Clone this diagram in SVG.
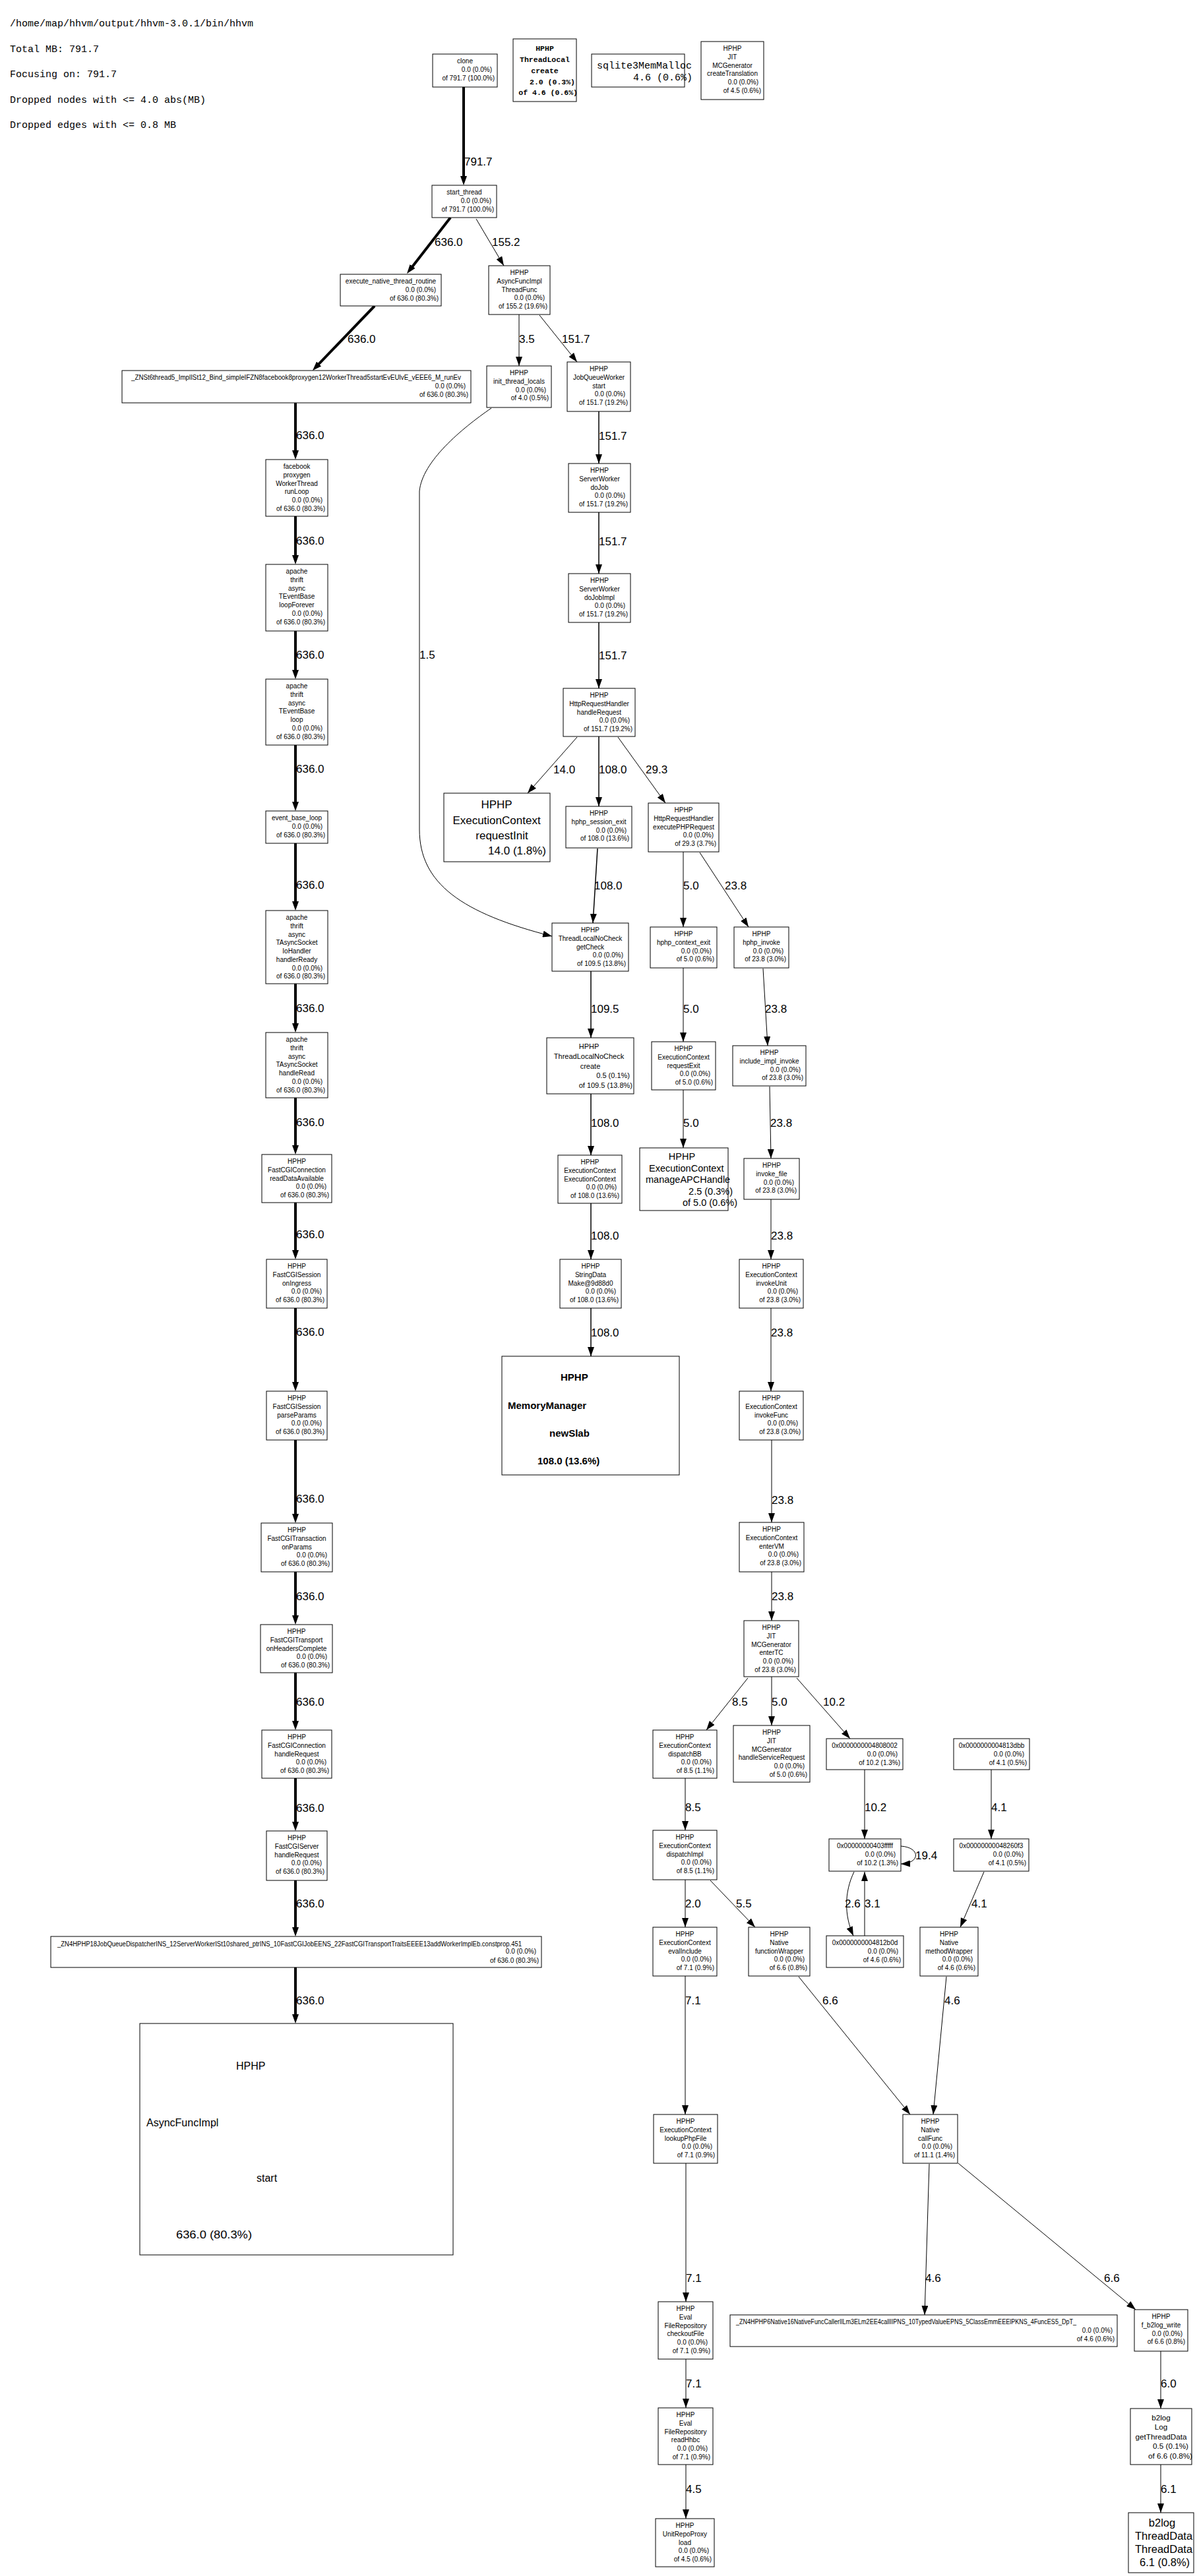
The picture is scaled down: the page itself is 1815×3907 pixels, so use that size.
<svg xmlns="http://www.w3.org/2000/svg" width="1815" height="3907" viewBox="0 0 1815 3907">
<style>
text{font-family:"Liberation Sans",Arial,sans-serif;fill:#000}
.s{font-size:10px}
.c{text-anchor:middle}
.r{text-anchor:end}
.l{font-size:17px}
.m{font-family:"Liberation Mono","Courier New",monospace}
.b{fill:#fff;stroke:#000;stroke-width:1}
.e{fill:none;stroke:#000;stroke-width:1;marker-end:url(#a)}
.e2{stroke-width:1.5}
.e4{stroke-width:4;marker-end:url(#ak)}
</style>
<defs>
<marker id="a" viewBox="0 0 14 10" markerWidth="14" markerHeight="10" refX="14" refY="5" orient="auto" markerUnits="userSpaceOnUse"><path d="M0,0 L14,5 L0,10 z" fill="#000"/></marker>
<marker id="ak" viewBox="0 0 14 10" markerWidth="14" markerHeight="10" refX="6" refY="5" orient="auto" markerUnits="userSpaceOnUse"><path d="M0,0 L14,5 L0,10 z" fill="#000"/></marker>
</defs>
<rect x="0" y="0" width="1815" height="3907" fill="#fff"/>
<g id="header">
<text class="m" x="15" y="40" font-size="15">/home/map/hhvm/output/hhvm-3.0.1/bin/hhvm</text>
<text class="m" x="15" y="79" font-size="15">Total MB: 791.7</text>
<text class="m" x="15" y="117" font-size="15">Focusing on: 791.7</text>
<text class="m" x="15" y="156" font-size="15">Dropped nodes with &lt;= 4.0 abs(MB)</text>
<text class="m" x="15" y="194" font-size="15">Dropped edges with &lt;= 0.8 MB</text>
</g>
<g id="edges">
<path class="e e4" d="M703,132 V273"/>
<path class="e e4" d="M683,330 L621.9,408.7"/>
<path class="e e4" d="M568,464 L479.5,556.2"/>
<path class="e e4" d="M448,611 V689"/>
<path class="e e4" d="M448,783 V848"/>
<path class="e e4" d="M448,957 V1022"/>
<path class="e e4" d="M448,1130 V1222"/>
<path class="e e4" d="M448,1279 V1373"/>
<path class="e e4" d="M448,1492 V1558"/>
<path class="e e4" d="M448,1665 V1743"/>
<path class="e e4" d="M448,1824 V1902"/>
<path class="e e4" d="M448,1984 V2102"/>
<path class="e e4" d="M448,2184 V2302"/>
<path class="e e4" d="M448,2384 V2456"/>
<path class="e e4" d="M448,2537 V2616"/>
<path class="e e4" d="M448,2697 V2769"/>
<path class="e e4" d="M448,2852 V2929"/>
<path class="e e4" d="M448,2984 V3061"/>
<path class="e" d="M722,332 L764,403"/>
<path class="e" d="M787,477 V555"/>
<path class="e" d="M818,478 L875,549"/>
<path class="e e2" d="M908,624 V703"/>
<path class="e e2" d="M908,777 V870"/>
<path class="e e2" d="M908,944 V1044"/>
<path class="e" d="M875,1118 L800,1203"/>
<path class="e e2" d="M908,1117 V1223"/>
<path class="e" d="M937,1118 L1009,1218"/>
<path class="e" d="M745,619 C700,650 640,700 636,745 L636,1258 C636,1340 700,1385 837,1420"/>
<path class="e e2" d="M906,1287 L899,1400"/>
<path class="e" d="M1036,1292 V1406"/>
<path class="e" d="M1061,1293 L1135,1406"/>
<path class="e e2" d="M896,1473 V1574"/>
<path class="e e2" d="M896,1659 V1752"/>
<path class="e e2" d="M896,1825 V1910"/>
<path class="e e2" d="M896,1984 V2057"/>
<path class="e" d="M1036,1468 V1580"/>
<path class="e" d="M1036,1653 V1741"/>
<path class="e" d="M1157,1469 L1164,1586"/>
<path class="e" d="M1167,1648 L1169,1757"/>
<path class="e" d="M1169,1819 V1910"/>
<path class="e" d="M1169,1984 V2110"/>
<path class="e" d="M1170,2184 V2309"/>
<path class="e" d="M1170,2384 V2458"/>
<path class="e" d="M1134,2545 L1071,2624"/>
<path class="e" d="M1170,2543 V2617"/>
<path class="e" d="M1208,2545 L1289,2637"/>
<path class="e" d="M1039,2697 V2776"/>
<path class="e" d="M1311,2684 V2789"/>
<path class="e" d="M1503,2684 V2789"/>
<path class="e" d="M1039,2851 V2923"/>
<path class="e" d="M1077,2852 L1145,2923"/>
<path class="e" d="M1366,2800 C1396,2802 1396,2826 1366,2827"/>
<path class="e" d="M1295,2839 C1280,2870 1280,2905 1294,2936"/>
<path class="e" d="M1311,2936 V2839"/>
<path class="e" d="M1492,2839 L1456,2923"/>
<path class="e" d="M1211,2998 L1380,3207"/>
<path class="e" d="M1435,2998 L1415,3207"/>
<path class="e" d="M1039,2997 V3207"/>
<path class="e" d="M1040,3281 V3491"/>
<path class="e" d="M1040,3578 V3652"/>
<path class="e" d="M1040,3738 V3820"/>
<path class="e" d="M1409,3282 L1402,3511"/>
<path class="e" d="M1453,3281 L1722,3503"/>
<path class="e" d="M1760,3566 V3653"/>
<path class="e" d="M1760,3738 V3811"/>
<g id="edge-labels">
<text class="l" x="704" y="251">791.7</text>
<text class="l" x="659" y="373">636.0</text>
<text class="l" x="746" y="373">155.2</text>
<text class="l" x="527" y="520">636.0</text>
<text class="l" x="787" y="520">3.5</text>
<text class="l" x="852" y="520">151.7</text>
<text class="l" x="449" y="666">636.0</text>
<text class="l" x="908" y="667">151.7</text>
<text class="l" x="449" y="826">636.0</text>
<text class="l" x="908" y="827">151.7</text>
<text class="l" x="449" y="999">636.0</text>
<text class="l" x="908" y="1000">151.7</text>
<text class="l" x="636" y="999">1.5</text>
<text class="l" x="449" y="1172">636.0</text>
<text class="l" x="839" y="1173">14.0</text>
<text class="l" x="908" y="1173">108.0</text>
<text class="l" x="979" y="1173">29.3</text>
<text class="l" x="449" y="1348">636.0</text>
<text class="l" x="901" y="1349">108.0</text>
<text class="l" x="1036" y="1349">5.0</text>
<text class="l" x="1099" y="1349">23.8</text>
<text class="l" x="449" y="1535">636.0</text>
<text class="l" x="896" y="1536">109.5</text>
<text class="l" x="1036" y="1536">5.0</text>
<text class="l" x="1160" y="1536">23.8</text>
<text class="l" x="449" y="1708">636.0</text>
<text class="l" x="896" y="1709">108.0</text>
<text class="l" x="1036" y="1709">5.0</text>
<text class="l" x="1168" y="1709">23.8</text>
<text class="l" x="449" y="1878">636.0</text>
<text class="l" x="896" y="1880">108.0</text>
<text class="l" x="1169" y="1880">23.8</text>
<text class="l" x="449" y="2026">636.0</text>
<text class="l" x="896" y="2027">108.0</text>
<text class="l" x="1169" y="2027">23.8</text>
<text class="l" x="449" y="2279">636.0</text>
<text class="l" x="1170" y="2281">23.8</text>
<text class="l" x="449" y="2427">636.0</text>
<text class="l" x="1170" y="2427">23.8</text>
<text class="l" x="449" y="2587">636.0</text>
<text class="l" x="1110" y="2587">8.5</text>
<text class="l" x="1170" y="2587">5.0</text>
<text class="l" x="1248" y="2587">10.2</text>
<text class="l" x="449" y="2748">636.0</text>
<text class="l" x="1039" y="2747">8.5</text>
<text class="l" x="1311" y="2747">10.2</text>
<text class="l" x="1503" y="2747">4.1</text>
<text class="l" x="1388" y="2820">19.4</text>
<text class="l" x="449" y="2893">636.0</text>
<text class="l" x="1039" y="2893">2.0</text>
<text class="l" x="1116" y="2893">5.5</text>
<text class="l" x="1281" y="2893">2.6</text>
<text class="l" x="1311" y="2893">3.1</text>
<text class="l" x="1473" y="2893">4.1</text>
<text class="l" x="449" y="3040">636.0</text>
<text class="l" x="1039" y="3040">7.1</text>
<text class="l" x="1247" y="3040">6.6</text>
<text class="l" x="1432" y="3040">4.6</text>
<text class="l" x="1040" y="3461">7.1</text>
<text class="l" x="1403" y="3461">4.6</text>
<text class="l" x="1674" y="3461">6.6</text>
<text class="l" x="1040" y="3621">7.1</text>
<text class="l" x="1760" y="3621">6.0</text>
<text class="l" x="1040" y="3781">4.5</text>
<text class="l" x="1760" y="3781">6.1</text>
</g>
</g>
<g id="nodes">
<g id="n_clone"><rect class="b" x="656" y="82" width="98" height="50"/><text class="s c" x="705" y="96">clone</text><text class="s r" x="746" y="108.75">0.0 (0.0%)</text><text class="s r" x="750" y="121.5">of 791.7 (100.0%)</text></g>
<g id="n_threadlocal_create"><rect class="b" x="778" y="59" width="96" height="95"/><text class="m c" font-size="11.5" font-weight="bold" x="826" y="77">HPHP</text><text class="m c" font-size="11.5" font-weight="bold" x="826" y="94">ThreadLocal</text><text class="m c" font-size="11.5" font-weight="bold" x="826" y="111">create</text><text class="m r" font-size="11.5" font-weight="bold" x="872" y="128">2.0 (0.3%)</text><text class="m r" font-size="11.5" font-weight="bold" x="876" y="144">of 4.6 (0.6%)</text></g>
<g id="n_sqlite"><rect class="b" x="897" y="82" width="141" height="50"/><text class="m" font-size="15" x="905" y="104">sqlite3MemMalloc</text><text class="m r" font-size="15" x="1050" y="122">4.6 (0.6%)</text></g>
<g id="n_createTranslation"><rect class="b" x="1063" y="63" width="95" height="88"/><text class="s c" x="1110.5" y="77">HPHP</text><text class="s c" x="1110.5" y="89.75">JIT</text><text class="s c" x="1110.5" y="102.5">MCGenerator</text><text class="s c" x="1110.5" y="115.25">createTranslation</text><text class="s r" x="1150" y="128">0.0 (0.0%)</text><text class="s r" x="1154" y="140.75">of 4.5 (0.6%)</text></g>
<g id="n_start_thread"><rect class="b" x="655" y="281" width="98" height="49"/><text class="s c" x="704" y="295">start_thread</text><text class="s r" x="745" y="307.75">0.0 (0.0%)</text><text class="s r" x="749" y="320.5">of 791.7 (100.0%)</text></g>
<g id="n_execute_native"><rect class="b" x="516" y="416" width="153" height="48"/><text class="s c" x="592.5" y="430">execute_native_thread_routine</text><text class="s r" x="661" y="442.75">0.0 (0.0%)</text><text class="s r" x="665" y="455.5">of 636.0 (80.3%)</text></g>
<g id="n_threadfunc"><rect class="b" x="741" y="403" width="93" height="74"/><text class="s c" x="787.5" y="417">HPHP</text><text class="s c" x="787.5" y="429.75">AsyncFuncImpl</text><text class="s c" x="787.5" y="442.5">ThreadFunc</text><text class="s r" x="826" y="455.25">0.0 (0.0%)</text><text class="s r" x="830" y="468">of 155.2 (19.6%)</text></g>
<g id="n_workerthread_run"><rect class="b" x="185" y="562" width="529" height="49"/><text class="s c" x="449" y="576" textLength="500" lengthAdjust="spacingAndGlyphs">_ZNSt6thread5_ImplISt12_Bind_simpleIFZN8facebook8proxygen12WorkerThread5startEvEUlvE_vEEE6_M_runEv</text><text class="s r" x="706" y="588.75">0.0 (0.0%)</text><text class="s r" x="710" y="601.5">of 636.0 (80.3%)</text></g>
<g id="n_init_thread_locals"><rect class="b" x="738" y="555" width="98" height="63"/><text class="s c" x="787" y="569">HPHP</text><text class="s c" x="787" y="581.75">init_thread_locals</text><text class="s r" x="828" y="594.5">0.0 (0.0%)</text><text class="s r" x="832" y="607.25">of 4.0 (0.5%)</text></g>
<g id="n_jobqueueworker"><rect class="b" x="860" y="549" width="96" height="75"/><text class="s c" x="908" y="563">HPHP</text><text class="s c" x="908" y="575.75">JobQueueWorker</text><text class="s c" x="908" y="588.5">start</text><text class="s r" x="948" y="601.25">0.0 (0.0%)</text><text class="s r" x="952" y="614">of 151.7 (19.2%)</text></g>
<g id="n_dojob"><rect class="b" x="862" y="703" width="94" height="74"/><text class="s c" x="909" y="717">HPHP</text><text class="s c" x="909" y="729.75">ServerWorker</text><text class="s c" x="909" y="742.5">doJob</text><text class="s r" x="948" y="755.25">0.0 (0.0%)</text><text class="s r" x="952" y="768">of 151.7 (19.2%)</text></g>
<g id="n_dojobimpl"><rect class="b" x="862" y="870" width="94" height="74"/><text class="s c" x="909" y="884">HPHP</text><text class="s c" x="909" y="896.75">ServerWorker</text><text class="s c" x="909" y="909.5">doJobImpl</text><text class="s r" x="948" y="922.25">0.0 (0.0%)</text><text class="s r" x="952" y="935">of 151.7 (19.2%)</text></g>
<g id="n_http_handlerequest"><rect class="b" x="854" y="1044" width="109" height="73"/><text class="s c" x="908.5" y="1058">HPHP</text><text class="s c" x="908.5" y="1070.75">HttpRequestHandler</text><text class="s c" x="908.5" y="1083.5">handleRequest</text><text class="s r" x="955" y="1096.25">0.0 (0.0%)</text><text class="s r" x="959" y="1109">of 151.7 (19.2%)</text></g>
<g id="n_requestinit"><rect class="b" x="673" y="1203" width="161" height="104"/><text class="c" font-size="17" x="753" y="1226">HPHP</text><text class="c" font-size="17" x="753" y="1250">ExecutionContext</text><text class="c" font-size="17" x="761" y="1273">requestInit</text><text class="r" font-size="17" x="828" y="1296">14.0 (1.8%)</text></g>
<g id="n_session_exit"><rect class="b" x="858" y="1223" width="100" height="63"/><text class="s c" x="908" y="1237">HPHP</text><text class="s c" x="908" y="1249.75">hphp_session_exit</text><text class="s r" x="950" y="1262.5">0.0 (0.0%)</text><text class="s r" x="954" y="1275.25">of 108.0 (13.6%)</text></g>
<g id="n_executephp"><rect class="b" x="983" y="1218" width="107" height="74"/><text class="s c" x="1036.5" y="1232">HPHP</text><text class="s c" x="1036.5" y="1244.75">HttpRequestHandler</text><text class="s c" x="1036.5" y="1257.5">executePHPRequest</text><text class="s r" x="1082" y="1270.25">0.0 (0.0%)</text><text class="s r" x="1086" y="1283">of 29.3 (3.7%)</text></g>
<g id="n_getcheck"><rect class="b" x="837" y="1400" width="116" height="73"/><text class="s c" x="895" y="1414">HPHP</text><text class="s c" x="895" y="1426.75">ThreadLocalNoCheck</text><text class="s c" x="895" y="1439.5">getCheck</text><text class="s r" x="945" y="1452.25">0.0 (0.0%)</text><text class="s r" x="949" y="1465">of 109.5 (13.8%)</text></g>
<g id="n_tlnc_create"><rect class="b" x="829" y="1574" width="132" height="85"/><text class="c" font-size="11" x="893" y="1591">HPHP</text><text class="c" font-size="11" x="893" y="1606">ThreadLocalNoCheck</text><text class="c" font-size="11" x="895" y="1621">create</text><text class="r" font-size="11" x="955" y="1635">0.5 (0.1%)</text><text class="r" font-size="11" x="959" y="1650">of 109.5 (13.8%)</text></g>
<g id="n_ecec"><rect class="b" x="846" y="1752" width="97" height="73"/><text class="s c" x="894.5" y="1766">HPHP</text><text class="s c" x="894.5" y="1778.75">ExecutionContext</text><text class="s c" x="894.5" y="1791.5">ExecutionContext</text><text class="s r" x="935" y="1804.25">0.0 (0.0%)</text><text class="s r" x="939" y="1817">of 108.0 (13.6%)</text></g>
<g id="n_stringdata"><rect class="b" x="849" y="1910" width="93" height="74"/><text class="s c" x="895.5" y="1924">HPHP</text><text class="s c" x="895.5" y="1936.75">StringData</text><text class="s c" x="895.5" y="1949.5">Make@9d88d0</text><text class="s r" x="934" y="1962.25">0.0 (0.0%)</text><text class="s r" x="938" y="1975">of 108.0 (13.6%)</text></g>
<g id="n_newslab"><rect class="b" x="761" y="2057" width="269" height="180"/><text font-size="15" font-weight="bold" x="850" y="2094">HPHP</text><text font-size="15" font-weight="bold" x="770" y="2137">MemoryManager</text><text font-size="15" font-weight="bold" x="833" y="2179">newSlab</text><text font-size="15" font-weight="bold" x="815" y="2221">108.0 (13.6%)</text></g>
<g id="n_context_exit"><rect class="b" x="986" y="1406" width="101" height="62"/><text class="s c" x="1036.5" y="1420">HPHP</text><text class="s c" x="1036.5" y="1432.75">hphp_context_exit</text><text class="s r" x="1079" y="1445.5">0.0 (0.0%)</text><text class="s r" x="1083" y="1458.25">of 5.0 (0.6%)</text></g>
<g id="n_requestexit"><rect class="b" x="988" y="1580" width="97" height="73"/><text class="s c" x="1036.5" y="1594">HPHP</text><text class="s c" x="1036.5" y="1606.75">ExecutionContext</text><text class="s c" x="1036.5" y="1619.5">requestExit</text><text class="s r" x="1077" y="1632.25">0.0 (0.0%)</text><text class="s r" x="1081" y="1645">of 5.0 (0.6%)</text></g>
<g id="n_manageapc"><rect class="b" x="970" y="1741" width="134" height="95"/><text class="c" font-size="14.5" x="1034" y="1758.5">HPHP</text><text font-size="14.5" x="984" y="1776.5">ExecutionContext</text><text font-size="14.5" x="979" y="1793.5">manageAPCHandle</text><text class="r" font-size="14.5" x="1111" y="1811.5">2.5 (0.3%)</text><text class="r" font-size="14.5" x="1118" y="1828.5">of 5.0 (0.6%)</text></g>
<g id="n_hphp_invoke"><rect class="b" x="1113" y="1406" width="83" height="62"/><text class="s c" x="1154.5" y="1420">HPHP</text><text class="s c" x="1154.5" y="1432.75">hphp_invoke</text><text class="s r" x="1188" y="1445.5">0.0 (0.0%)</text><text class="s r" x="1192" y="1458.25">of 23.8 (3.0%)</text></g>
<g id="n_include_impl"><rect class="b" x="1111" y="1586" width="111" height="61"/><text class="s c" x="1166.5" y="1600">HPHP</text><text class="s c" x="1166.5" y="1612.75">include_impl_invoke</text><text class="s r" x="1214" y="1625.5">0.0 (0.0%)</text><text class="s r" x="1218" y="1638.25">of 23.8 (3.0%)</text></g>
<g id="n_invoke_file"><rect class="b" x="1128" y="1757" width="84" height="62"/><text class="s c" x="1170" y="1771">HPHP</text><text class="s c" x="1170" y="1783.75">invoke_file</text><text class="s r" x="1204" y="1796.5">0.0 (0.0%)</text><text class="s r" x="1208" y="1809.25">of 23.8 (3.0%)</text></g>
<g id="n_invokeunit"><rect class="b" x="1121" y="1910" width="97" height="74"/><text class="s c" x="1169.5" y="1924">HPHP</text><text class="s c" x="1169.5" y="1936.75">ExecutionContext</text><text class="s c" x="1169.5" y="1949.5">invokeUnit</text><text class="s r" x="1210" y="1962.25">0.0 (0.0%)</text><text class="s r" x="1214" y="1975">of 23.8 (3.0%)</text></g>
<g id="n_invokefunc"><rect class="b" x="1121" y="2110" width="97" height="74"/><text class="s c" x="1169.5" y="2124">HPHP</text><text class="s c" x="1169.5" y="2136.75">ExecutionContext</text><text class="s c" x="1169.5" y="2149.5">invokeFunc</text><text class="s r" x="1210" y="2162.25">0.0 (0.0%)</text><text class="s r" x="1214" y="2175">of 23.8 (3.0%)</text></g>
<g id="n_entervm"><rect class="b" x="1121" y="2309" width="98" height="75"/><text class="s c" x="1170" y="2323">HPHP</text><text class="s c" x="1170" y="2335.75">ExecutionContext</text><text class="s c" x="1170" y="2348.5">enterVM</text><text class="s r" x="1211" y="2361.25">0.0 (0.0%)</text><text class="s r" x="1215" y="2374">of 23.8 (3.0%)</text></g>
<g id="n_entertc"><rect class="b" x="1128" y="2458" width="83" height="85"/><text class="s c" x="1169.5" y="2472">HPHP</text><text class="s c" x="1169.5" y="2484.75">JIT</text><text class="s c" x="1169.5" y="2497.5">MCGenerator</text><text class="s c" x="1169.5" y="2510.25">enterTC</text><text class="s r" x="1203" y="2523">0.0 (0.0%)</text><text class="s r" x="1207" y="2535.75">of 23.8 (3.0%)</text></g>
<g id="n_dispatchbb"><rect class="b" x="990" y="2624" width="97" height="73"/><text class="s c" x="1038.5" y="2638">HPHP</text><text class="s c" x="1038.5" y="2650.75">ExecutionContext</text><text class="s c" x="1038.5" y="2663.5">dispatchBB</text><text class="s r" x="1079" y="2676.25">0.0 (0.0%)</text><text class="s r" x="1083" y="2689">of 8.5 (1.1%)</text></g>
<g id="n_handleservice"><rect class="b" x="1112" y="2617" width="116" height="86"/><text class="s c" x="1170" y="2631">HPHP</text><text class="s c" x="1170" y="2643.75">JIT</text><text class="s c" x="1170" y="2656.5">MCGenerator</text><text class="s c" x="1170" y="2669.25">handleServiceRequest</text><text class="s r" x="1220" y="2682">0.0 (0.0%)</text><text class="s r" x="1224" y="2694.75">of 5.0 (0.6%)</text></g>
<g id="n_4808002"><rect class="b" x="1253" y="2637" width="116" height="47"/><text class="s c" x="1311" y="2651">0x0000000004808002</text><text class="s r" x="1361" y="2663.75">0.0 (0.0%)</text><text class="s r" x="1365" y="2676.5">of 10.2 (1.3%)</text></g>
<g id="n_4813dbb"><rect class="b" x="1446" y="2637" width="115" height="47"/><text class="s c" x="1503.5" y="2651">0x0000000004813dbb</text><text class="s r" x="1553" y="2663.75">0.0 (0.0%)</text><text class="s r" x="1557" y="2676.5">of 4.1 (0.5%)</text></g>
<g id="n_dispatchimpl"><rect class="b" x="990" y="2776" width="97" height="75"/><text class="s c" x="1038.5" y="2790">HPHP</text><text class="s c" x="1038.5" y="2802.75">ExecutionContext</text><text class="s c" x="1038.5" y="2815.5">dispatchImpl</text><text class="s r" x="1079" y="2828.25">0.0 (0.0%)</text><text class="s r" x="1083" y="2841">of 8.5 (1.1%)</text></g>
<g id="n_403fffff"><rect class="b" x="1257" y="2789" width="109" height="49"/><text class="s c" x="1311.5" y="2803">0x00000000403fffff</text><text class="s r" x="1358" y="2815.75">0.0 (0.0%)</text><text class="s r" x="1362" y="2828.5">of 10.2 (1.3%)</text></g>
<g id="n_48260f3"><rect class="b" x="1446" y="2789" width="114" height="49"/><text class="s c" x="1503" y="2803">0x00000000048260f3</text><text class="s r" x="1552" y="2815.75">0.0 (0.0%)</text><text class="s r" x="1556" y="2828.5">of 4.1 (0.5%)</text></g>
<g id="n_evalinclude"><rect class="b" x="990" y="2923" width="97" height="74"/><text class="s c" x="1038.5" y="2937">HPHP</text><text class="s c" x="1038.5" y="2949.75">ExecutionContext</text><text class="s c" x="1038.5" y="2962.5">evalInclude</text><text class="s r" x="1079" y="2975.25">0.0 (0.0%)</text><text class="s r" x="1083" y="2988">of 7.1 (0.9%)</text></g>
<g id="n_functionwrapper"><rect class="b" x="1135" y="2923" width="93" height="74"/><text class="s c" x="1181.5" y="2937">HPHP</text><text class="s c" x="1181.5" y="2949.75">Native</text><text class="s c" x="1181.5" y="2962.5">functionWrapper</text><text class="s r" x="1220" y="2975.25">0.0 (0.0%)</text><text class="s r" x="1224" y="2988">of 6.6 (0.8%)</text></g>
<g id="n_4812b0d"><rect class="b" x="1253" y="2936" width="117" height="48"/><text class="s c" x="1311.5" y="2950">0x0000000004812b0d</text><text class="s r" x="1362" y="2962.75">0.0 (0.0%)</text><text class="s r" x="1366" y="2975.5">of 4.6 (0.6%)</text></g>
<g id="n_methodwrapper"><rect class="b" x="1395" y="2923" width="88" height="74"/><text class="s c" x="1439" y="2937">HPHP</text><text class="s c" x="1439" y="2949.75">Native</text><text class="s c" x="1439" y="2962.5">methodWrapper</text><text class="s r" x="1475" y="2975.25">0.0 (0.0%)</text><text class="s r" x="1479" y="2988">of 4.6 (0.6%)</text></g>
<g id="n_callfunc"><rect class="b" x="1369" y="3207" width="83" height="74"/><text class="s c" x="1410.5" y="3221">HPHP</text><text class="s c" x="1410.5" y="3233.75">Native</text><text class="s c" x="1410.5" y="3246.5">callFunc</text><text class="s r" x="1444" y="3259.25">0.0 (0.0%)</text><text class="s r" x="1448" y="3272">of 11.1 (1.4%)</text></g>
<g id="n_lookupphpfile"><rect class="b" x="991" y="3207" width="97" height="74"/><text class="s c" x="1039.5" y="3221">HPHP</text><text class="s c" x="1039.5" y="3233.75">ExecutionContext</text><text class="s c" x="1039.5" y="3246.5">lookupPhpFile</text><text class="s r" x="1080" y="3259.25">0.0 (0.0%)</text><text class="s r" x="1084" y="3272">of 7.1 (0.9%)</text></g>
<g id="n_checkoutfile"><rect class="b" x="998" y="3491" width="83" height="87"/><text class="s c" x="1039.5" y="3505">HPHP</text><text class="s c" x="1039.5" y="3517.75">Eval</text><text class="s c" x="1039.5" y="3530.5">FileRepository</text><text class="s c" x="1039.5" y="3543.25">checkoutFile</text><text class="s r" x="1073" y="3556">0.0 (0.0%)</text><text class="s r" x="1077" y="3568.75">of 7.1 (0.9%)</text></g>
<g id="n_readhhbc"><rect class="b" x="998" y="3652" width="83" height="86"/><text class="s c" x="1039.5" y="3666">HPHP</text><text class="s c" x="1039.5" y="3678.75">Eval</text><text class="s c" x="1039.5" y="3691.5">FileRepository</text><text class="s c" x="1039.5" y="3704.25">readHhbc</text><text class="s r" x="1073" y="3717">0.0 (0.0%)</text><text class="s r" x="1077" y="3729.75">of 7.1 (0.9%)</text></g>
<g id="n_unitrepoproxy"><rect class="b" x="994" y="3820" width="89" height="73"/><text class="s c" x="1038.5" y="3834">HPHP</text><text class="s c" x="1038.5" y="3846.75">UnitRepoProxy</text><text class="s c" x="1038.5" y="3859.5">load</text><text class="s r" x="1075" y="3872.25">0.0 (0.0%)</text><text class="s r" x="1079" y="3885">of 4.5 (0.6%)</text></g>
<g id="n_nativefunccaller"><rect class="b" x="1107" y="3511" width="587" height="48"/><text class="s" x="1116" y="3525" textLength="516" lengthAdjust="spacingAndGlyphs">_ZN4HPHP6Native16NativeFuncCallerIlLm3ELm2EE4callIIPNS_10TypedValueEPNS_5ClassEmmEEElPKNS_4FuncES5_DpT_</text><text class="s r" x="1687" y="3538">0.0 (0.0%)</text><text class="s r" x="1690" y="3551">of 4.6 (0.6%)</text></g>
<g id="n_b2log_write"><rect class="b" x="1720" y="3503" width="81" height="63"/><text class="s c" x="1760.5" y="3517">HPHP</text><text class="s c" x="1760.5" y="3529.75">f_b2log_write</text><text class="s r" x="1793" y="3542.5">0.0 (0.0%)</text><text class="s r" x="1797" y="3555.25">of 6.6 (0.8%)</text></g>
<g id="n_getthreaddata"><rect class="b" x="1714" y="3653" width="93" height="85"/><text class="c" font-size="11.7" x="1760.5" y="3671">b2log</text><text class="c" font-size="11.7" x="1760.5" y="3685">Log</text><text class="c" font-size="11.7" x="1760.5" y="3700">getThreadData</text><text class="r" font-size="11.7" x="1802" y="3714">0.5 (0.1%)</text><text class="r" font-size="11.7" x="1808" y="3729">of 6.6 (0.8%)</text></g>
<g id="n_threaddata"><rect class="b" x="1711" y="3811" width="99" height="91"/><text class="c" font-size="16.5" x="1762" y="3832">b2log</text><text font-size="16.5" x="1721" y="3852">ThreadData</text><text font-size="16.5" x="1721" y="3872">ThreadData</text><text font-size="16.5" x="1728" y="3892">6.1 (0.8%)</text></g>
<g id="n_runloop"><rect class="b" x="403" y="697" width="94" height="86"/><text class="s c" x="450" y="711">facebook</text><text class="s c" x="450" y="723.75">proxygen</text><text class="s c" x="450" y="736.5">WorkerThread</text><text class="s c" x="450" y="749.25">runLoop</text><text class="s r" x="489" y="762">0.0 (0.0%)</text><text class="s r" x="493" y="774.75">of 636.0 (80.3%)</text></g>
<g id="n_loopforever"><rect class="b" x="403" y="856" width="94" height="101"/><text class="s c" x="450" y="870">apache</text><text class="s c" x="450" y="882.75">thrift</text><text class="s c" x="450" y="895.5">async</text><text class="s c" x="450" y="908.25">TEventBase</text><text class="s c" x="450" y="921">loopForever</text><text class="s r" x="489" y="933.75">0.0 (0.0%)</text><text class="s r" x="493" y="946.5">of 636.0 (80.3%)</text></g>
<g id="n_loop"><rect class="b" x="403" y="1030" width="94" height="100"/><text class="s c" x="450" y="1044">apache</text><text class="s c" x="450" y="1056.75">thrift</text><text class="s c" x="450" y="1069.5">async</text><text class="s c" x="450" y="1082.25">TEventBase</text><text class="s c" x="450" y="1095">loop</text><text class="s r" x="489" y="1107.75">0.0 (0.0%)</text><text class="s r" x="493" y="1120.5">of 636.0 (80.3%)</text></g>
<g id="n_event_base_loop"><rect class="b" x="403" y="1230" width="94" height="49"/><text class="s c" x="450" y="1244">event_base_loop</text><text class="s r" x="489" y="1256.75">0.0 (0.0%)</text><text class="s r" x="493" y="1269.5">of 636.0 (80.3%)</text></g>
<g id="n_handlerready"><rect class="b" x="403" y="1381" width="94" height="111"/><text class="s c" x="450" y="1395">apache</text><text class="s c" x="450" y="1407.75">thrift</text><text class="s c" x="450" y="1420.5">async</text><text class="s c" x="450" y="1433.25">TAsyncSocket</text><text class="s c" x="450" y="1446">IoHandler</text><text class="s c" x="450" y="1458.75">handlerReady</text><text class="s r" x="489" y="1471.5">0.0 (0.0%)</text><text class="s r" x="493" y="1484.25">of 636.0 (80.3%)</text></g>
<g id="n_handleread"><rect class="b" x="403" y="1566" width="94" height="99"/><text class="s c" x="450" y="1580">apache</text><text class="s c" x="450" y="1592.75">thrift</text><text class="s c" x="450" y="1605.5">async</text><text class="s c" x="450" y="1618.25">TAsyncSocket</text><text class="s c" x="450" y="1631">handleRead</text><text class="s r" x="489" y="1643.75">0.0 (0.0%)</text><text class="s r" x="493" y="1656.5">of 636.0 (80.3%)</text></g>
<g id="n_readdataavailable"><rect class="b" x="397" y="1751" width="106" height="73"/><text class="s c" x="450" y="1765">HPHP</text><text class="s c" x="450" y="1777.75">FastCGIConnection</text><text class="s c" x="450" y="1790.5">readDataAvailable</text><text class="s r" x="495" y="1803.25">0.0 (0.0%)</text><text class="s r" x="499" y="1816">of 636.0 (80.3%)</text></g>
<g id="n_oningress"><rect class="b" x="404" y="1910" width="92" height="74"/><text class="s c" x="450" y="1924">HPHP</text><text class="s c" x="450" y="1936.75">FastCGISession</text><text class="s c" x="450" y="1949.5">onIngress</text><text class="s r" x="488" y="1962.25">0.0 (0.0%)</text><text class="s r" x="492" y="1975">of 636.0 (80.3%)</text></g>
<g id="n_parseparams"><rect class="b" x="404" y="2110" width="92" height="74"/><text class="s c" x="450" y="2124">HPHP</text><text class="s c" x="450" y="2136.75">FastCGISession</text><text class="s c" x="450" y="2149.5">parseParams</text><text class="s r" x="488" y="2162.25">0.0 (0.0%)</text><text class="s r" x="492" y="2175">of 636.0 (80.3%)</text></g>
<g id="n_onparams"><rect class="b" x="396" y="2310" width="108" height="74"/><text class="s c" x="450" y="2324">HPHP</text><text class="s c" x="450" y="2336.75">FastCGITransaction</text><text class="s c" x="450" y="2349.5">onParams</text><text class="s r" x="496" y="2362.25">0.0 (0.0%)</text><text class="s r" x="500" y="2375">of 636.0 (80.3%)</text></g>
<g id="n_onheaderscomplete"><rect class="b" x="395" y="2464" width="109" height="73"/><text class="s c" x="449.5" y="2478">HPHP</text><text class="s c" x="449.5" y="2490.75">FastCGITransport</text><text class="s c" x="449.5" y="2503.5">onHeadersComplete</text><text class="s r" x="496" y="2516.25">0.0 (0.0%)</text><text class="s r" x="500" y="2529">of 636.0 (80.3%)</text></g>
<g id="n_fcgiconn_handlerequest"><rect class="b" x="397" y="2624" width="106" height="73"/><text class="s c" x="450" y="2638">HPHP</text><text class="s c" x="450" y="2650.75">FastCGIConnection</text><text class="s c" x="450" y="2663.5">handleRequest</text><text class="s r" x="495" y="2676.25">0.0 (0.0%)</text><text class="s r" x="499" y="2689">of 636.0 (80.3%)</text></g>
<g id="n_fcgiserver_handlerequest"><rect class="b" x="404" y="2777" width="92" height="75"/><text class="s c" x="450" y="2791">HPHP</text><text class="s c" x="450" y="2803.75">FastCGIServer</text><text class="s c" x="450" y="2816.5">handleRequest</text><text class="s r" x="488" y="2829.25">0.0 (0.0%)</text><text class="s r" x="492" y="2842">of 636.0 (80.3%)</text></g>
<g id="n_addworkerimpl"><rect class="b" x="77" y="2937" width="744" height="47"/><text class="s" x="87" y="2951.5" textLength="704" lengthAdjust="spacingAndGlyphs">_ZN4HPHP18JobQueueDispatcherINS_12ServerWorkerISt10shared_ptrINS_10FastCGIJobEENS_22FastCGITransportTraitsEEEE13addWorkerImplEb.constprop.451</text><text class="s r" x="813" y="2962.5">0.0 (0.0%)</text><text class="s r" x="817" y="2976.5">of 636.0 (80.3%)</text></g>
<g id="n_asyncfuncimpl_start"><rect class="b" x="212" y="3069" width="475" height="351"/><text font-size="16" x="358" y="3139">HPHP</text><text font-size="16" x="222" y="3225">AsyncFuncImpl</text><text font-size="16" x="389" y="3309">start</text><text font-size="16" x="267" y="3395" textLength="115" lengthAdjust="spacingAndGlyphs">636.0 (80.3%)</text></g>
</g>
</svg>
